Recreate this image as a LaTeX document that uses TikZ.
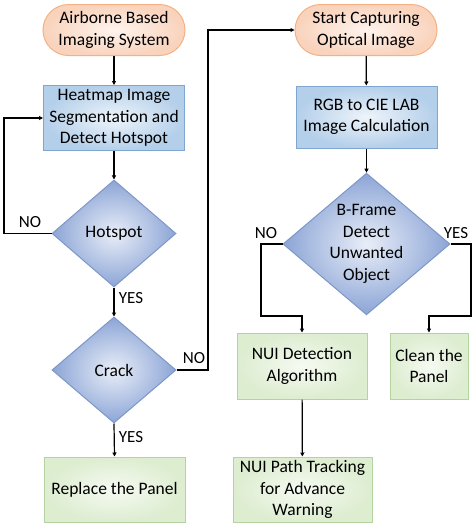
\documentclass[tikz,border=0pt]{standalone}
\usepackage{fontspec}
\setmainfont{Carlito}
\usetikzlibrary{shapes.geometric,shapes.misc,arrows.meta}
\definecolor{orbord}{HTML}{F4B183}
\definecolor{orin}{HTML}{FEF4EE}
\definecolor{orout}{HTML}{F9D3BC}
\definecolor{blbord}{HTML}{7FA6D0}
\definecolor{blin}{HTML}{EEF4FA}
\definecolor{blout}{HTML}{B4CFEA}
\definecolor{dmbord}{HTML}{7E97C8}
\definecolor{dmin}{HTML}{E9EEF8}
\definecolor{dmout}{HTML}{8CA5D6}
\definecolor{grbord}{HTML}{B5D3A0}
\definecolor{grin}{HTML}{F6FAF2}
\definecolor{grout}{HTML}{DDEDD0}
\begin{document}
\begin{tikzpicture}[x=1pt,y=-1pt,
  every node/.style={font=\fontsize{17.5}{21.5}\selectfont, align=center, inner sep=0pt},
  startbox/.style={rounded rectangle, draw=orbord, line width=1pt, inner color=orin, outer color=orout, minimum width=142, minimum height=51},
  procbox/.style={rectangle, draw=blbord, line width=1pt, inner color=blin, outer color=blout},
  decbox/.style={diamond, aspect=1.17, draw=dmbord, line width=1pt, inner color=dmin, outer color=dmout},
  endbox/.style={rectangle, draw=grbord, line width=1pt, inner color=grin, outer color=grout},
  lab/.style={font=\fontsize{17}{20}\selectfont},
  conn/.style={draw=black, line width=1.2pt, -{Triangle[length=4pt,width=4pt]}}]
\useasboundingbox (0,0) rectangle (474,525);
\node[startbox] (air) at (114,30) {Airborne Based\\Imaging System};
\node[procbox, minimum width=141, minimum height=65] (heat) at (114,118) {Heatmap Image\\Segmentation and\\Detect Hotspot};
\node[decbox, minimum width=124, minimum height=107] (hot) at (114,233.5) {Hotspot};
\node[decbox, minimum width=124, minimum height=106] (crack) at (114,370) {Crack};
\node[endbox, minimum width=141, minimum height=65] (rep) at (114.5,489.5) {Replace the Panel};
\node[startbox] (start) at (366,30) {Start Capturing\\Optical Image};
\node[procbox, minimum width=141, minimum height=62] (rgb) at (366.5,117) {RGB to CIE LAB\\Image Calculation};
\node[decbox, minimum width=167, minimum height=128] (bf) at (366.5,244) {B-Frame\\Detect\\Unwanted\\Object};
\node[endbox, minimum width=130, minimum height=66] (nui) at (302,366) {NUI Detection\\Algorithm};
\node[endbox, minimum width=78, minimum height=66] (clean) at (429,366) {Clean the\\Panel};
\node[endbox, minimum width=139, minimum height=65] (path) at (302.5,489.5) {NUI Path Tracking\\for Advance\\Warning};
\coordinate (l1) at (4,233.5);
\coordinate (l2) at (4,118);
\coordinate (c1) at (208,370);
\coordinate (c2) at (208,30);
\coordinate (b1) at (261,244);
\coordinate (b2) at (261,316);
\coordinate (b3) at (302,316);
\coordinate (y1) at (471,244);
\coordinate (y2) at (471,316);
\coordinate (y3) at (429,316);
\draw[conn] (air) -- (heat);
\draw[conn] (heat) -- (hot);
\draw[conn] (hot.west) -- (l1) -- (l2) -- (heat.west);
\draw[conn] (hot.south) -- (crack.north);
\draw[conn] (crack.south) -- (rep.north);
\draw[conn] (crack.east) -- (c1) -- (c2) -- (start.west);
\draw[conn] (start) -- (rgb);
\draw[conn] (rgb) -- (bf);
\draw[conn] (bf.west) -- (b1) -- (b2) -- (b3) -- (nui.north);
\draw[conn] (bf.east) -- (y1) -- (y2) -- (y3) -- (clean.north);
\draw[conn] (nui) -- (path);
\node[lab] (no1) at (30,222) {NO};
\node[lab] (yes1) at (131,298) {YES};
\node[lab] (no2) at (194,358) {NO};
\node[lab] (yes2) at (131,437) {YES};
\node[lab] (no3) at (266,233) {NO};
\node[lab] (yes3) at (456,233) {YES};
\end{tikzpicture}
\end{document}
